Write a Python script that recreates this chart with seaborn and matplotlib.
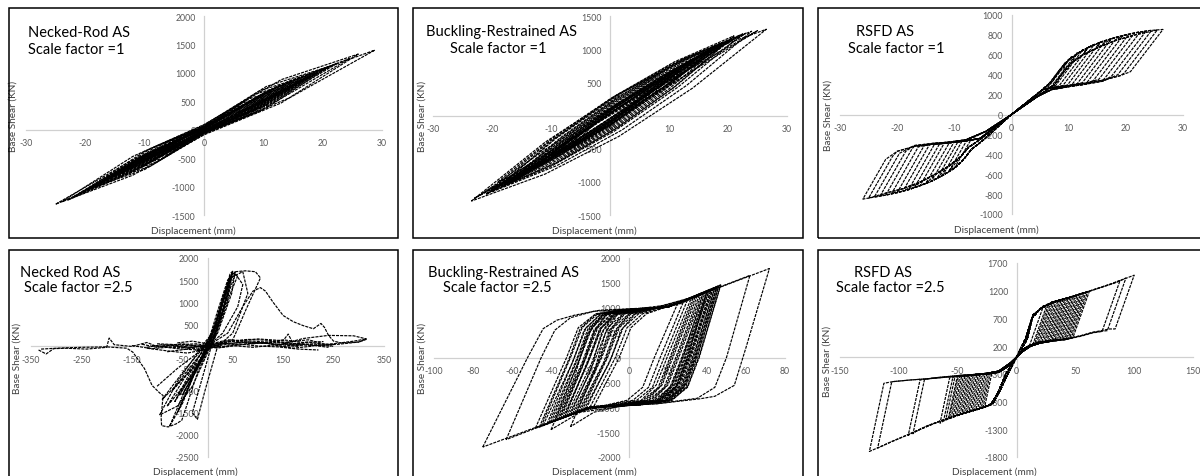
import matplotlib
matplotlib.use("Agg")
import matplotlib.pyplot as plt
from matplotlib.patches import Rectangle
import seaborn as sns
import pandas as pd

sns.set_theme(style="white")
plt.rcParams["font.family"] = ["Lato", "DejaVu Sans"]

W, H = 1200, 477

# ---------------- data ----------------
# Panel 1: Necked-Rod AS, SF=1  (vertices of each cycle)
NR1_LOOPS = [
    [(-25, -1310), (-12.5, -560), (0, 60), (14.4, 860), (28.8, 1400), (14.4, 560), (0, -60), (-12.5, -760), (-25, -1310)],
    [(-23, -1240), (-11.5, -520), (0, 50), (12.2, 760), (24.5, 1250), (12.2, 500), (0, -50), (-11.5, -720), (-23, -1240)],
    [(-22, -1180), (-11, -500), (0, 45), (11.2, 700), (22.5, 1170), (11.2, 470), (0, -45), (-11, -680), (-22, -1180)],
    [(-20.5, -1100), (-10.2, -465), (0, 40), (10.5, 670), (21, 1110), (10.5, 445), (0, -40), (-10.2, -635), (-20.5, -1100)],
    [(-19.5, -1050), (-9.8, -440), (0, 40), (10, 640), (20, 1060), (10, 420), (0, -40), (-9.8, -610), (-19.5, -1050)],
    [(-18.5, -990), (-9.2, -420), (0, 40), (9.5, 600), (19, 1000), (9.5, 400), (0, -40), (-9.2, -570), (-18.5, -990)],
    [(-17.5, -930), (-8.8, -390), (0, 35), (9, 570), (18, 950), (9, 380), (0, -35), (-8.8, -540), (-17.5, -930)],
    [(-16.5, -880), (-8.2, -370), (0, 35), (8.5, 540), (17, 900), (8.5, 360), (0, -35), (-8.2, -510), (-16.5, -880)],
    [(-15.5, -820), (-7.8, -345), (0, 30), (8, 505), (16, 840), (8, 335), (0, -30), (-7.8, -475), (-15.5, -820)],
    [(-14.5, -770), (-7.2, -325), (0, 30), (7.5, 475), (15, 790), (7.5, 315), (0, -30), (-7.2, -445), (-14.5, -770)],
    [(-13.5, -710), (-6.8, -300), (0, 30), (7, 440), (14, 730), (7, 290), (0, -30), (-6.8, -410), (-13.5, -710)],
    [(-12.5, -660), (-6.2, -280), (0, 25), (6.5, 410), (13, 680), (6.5, 270), (0, -25), (-6.2, -380), (-12.5, -660)],
    [(-11.5, -600), (-5.8, -255), (0, 25), (6, 375), (12, 620), (6, 245), (0, -25), (-5.8, -345), (-11.5, -600)],
    [(-10.5, -550), (-5.2, -235), (0, 20), (5.5, 345), (11, 570), (5.5, 225), (0, -20), (-5.2, -315), (-10.5, -550)],
    [(-9.5, -490), (-4.8, -205), (0, 20), (5, 315), (10, 520), (5, 205), (0, -20), (-4.8, -285), (-9.5, -490)],
    [(-8.5, -440), (-4.2, -185), (0, 20), (4.5, 280), (9, 460), (4.5, 180), (0, -20), (-4.2, -255), (-8.5, -440)],
    [(-7.5, -390), (-3.8, -165), (0, 15), (4, 250), (8, 410), (4, 160), (0, -15), (-3.8, -225), (-7.5, -390)],
    [(-6.5, -340), (-3.2, -140), (0, 15), (3.5, 220), (7, 360), (3.5, 140), (0, -15), (-3.2, -200), (-6.5, -340)],
    [(-5.5, -290), (-2.8, -120), (0, 10), (3, 185), (6, 300), (3, 115), (0, -10), (-2.8, -170), (-5.5, -290)],
    [(-21, -1120), (-10.5, -560), (0, 0), (10.8, 560), (21.5, 1120), (10.8, 530), (0, -20), (-10.5, -590), (-21, -1120)],
    [(-17, -900), (-8.5, -450), (0, 0), (8.8, 460), (17.5, 930), (8.8, 430), (0, -20), (-8.5, -480), (-17, -900)],
    [(-13, -690), (-6.5, -345), (0, 0), (6.8, 355), (13.5, 710), (6.8, 330), (0, -15), (-6.5, -370), (-13, -690)],
    [(-24, -1270), (-12, -470), (0, 90), (13, 880), (26, 1330), (13, 470), (0, -90), (-12, -800), (-24, -1270)],
    [(-20, -1060), (-10, -380), (0, 80), (10.5, 760), (21, 1110), (10.5, 380), (0, -80), (-10, -700), (-20, -1060)],
    [(-18, -960), (-9, -330), (0, 70), (9.5, 690), (19, 1000), (9.5, 330), (0, -70), (-9, -640), (-18, -960)],
    [(-16, -850), (-8, -290), (0, 60), (8.5, 620), (17, 900), (8.5, 300), (0, -60), (-8, -570), (-16, -850)],
    [(-14, -740), (-7, -250), (0, 50), (7.5, 540), (15, 790), (7.5, 260), (0, -50), (-7, -500), (-14, -740)],
    [(-12, -630), (-6, -210), (0, 40), (6.5, 470), (13, 680), (6.5, 220), (0, -40), (-6, -430), (-12, -630)],
    [(-10, -530), (-5, -170), (0, 35), (5.5, 400), (11, 570), (5.5, 180), (0, -35), (-5, -360), (-10, -530)],
]

# Panel 2: Buckling-Restrained AS, SF=1 (lens-shaped loops)
BRB1_LOOPS = [
    [(-23.5, -1290), (-11, -403), (1.5, 325), (14, 893), (26.5, 1300), (14, 413), (1.5, -315), (-11, -883), (-23.5, -1290)],
    [(-20, -1150), (-9, -335), (2, 340), (13, 875), (24, 1270), (13, 455), (2, -220), (-9, -755), (-20, -1150)],
    [(-21, -1180), (-10.1, -383), (0.75, 285), (11.6, 823), (22.5, 1230), (11.6, 433), (0.75, -235), (-10.1, -773), (-21, -1180)],
    [(-19.5, -1120), (-9.4, -352), (0.75, 290), (10.9, 808), (21, 1200), (10.9, 432), (0.75, -210), (-9.4, -728), (-19.5, -1120)],
    [(-18, -1060), (-8.4, -335), (1.25, 275), (10.9, 770), (20.5, 1150), (10.9, 425), (1.25, -185), (-8.4, -680), (-18, -1060)],
    [(-17, -1000), (-8, -322), (1, 250), (10, 718), (19, 1080), (10, 402), (1, -170), (-8, -638), (-17, -1000)],
    [(-15.5, -920), (-7.4, -302), (0.75, 220), (8.9, 648), (17, 980), (8.9, 362), (0.75, -160), (-7.4, -588), (-15.5, -920)],
    [(-14, -840), (-6.75, -282), (0.5, 190), (7.75, 578), (15, 880), (7.75, 322), (0.5, -150), (-6.75, -538), (-14, -840)],
    [(-12, -740), (-5.75, -248), (0.5, 170), (6.75, 512), (13, 780), (6.75, 288), (0.5, -130), (-5.75, -472), (-12, -740)],
    [(-10, -640), (-4.75, -215), (0.5, 145), (5.75, 440), (11, 670), (5.75, 245), (0.5, -115), (-4.75, -410), (-10, -640)],
    [(-8, -530), (-3.75, -175), (0.5, 125), (4.75, 370), (9, 560), (4.75, 205), (0.5, -95), (-3.75, -340), (-8, -530)],
    [(-6, -420), (-2.75, -138), (0.5, 100), (3.75, 292), (7, 440), (3.75, 158), (0.5, -80), (-2.75, -272), (-6, -420)],
    [(-22, -1200), (-10.75, -500), (0.5, 140), (11.75, 720), (23, 1240), (11.75, 540), (0.5, -100), (-10.75, -680), (-22, -1200)],
    [(-20, -1130), (-9.75, -477), (0.5, 125), (10.75, 677), (21, 1180), (10.75, 527), (0.5, -75), (-9.75, -627), (-20, -1130)],
    [(-18.5, -1070), (-8.9, -455), (0.75, 115), (10.4, 640), (20, 1120), (10.4, 505), (0.75, -65), (-8.9, -590), (-18.5, -1070)],
    [(-17, -1010), (-8.25, -407), (0.5, 135), (9.25, 617), (18, 1040), (9.25, 437), (0.5, -105), (-8.25, -587), (-17, -1010)],
    [(-15, -900), (-7.25, -377), (0.5, 105), (8.25, 547), (16, 950), (8.25, 427), (0.5, -55), (-7.25, -497), (-15, -900)],
    [(-13, -800), (-6.25, -313), (0.5, 125), (7.25, 512), (14, 850), (7.25, 362), (0.5, -75), (-6.25, -463), (-13, -800)],
    [(-11, -690), (-5.25, -275), (0.5, 100), (6.25, 435), (12, 730), (6.25, 315), (0.5, -60), (-5.25, -395), (-11, -690)],
    [(-9, -580), (-4.25, -232), (0.5, 90), (5.25, 372), (10, 620), (5.25, 268), (0.5, -50), (-4.25, -338), (-9, -580)],
    [(-19, -1000), (-9.5, -325), (0, 250), (9.5, 725), (19, 1100), (9.5, 425), (0, -150), (-9.5, -625), (-19, -1000)],
    [(-16, -980), (-7.5, -425), (1, 100), (9.5, 595), (18, 1060), (9.5, 505), (1, -20), (-7.5, -515), (-16, -980)],
    [(-23, -1250), (-11, -587), (1, 55), (13, 678), (25, 1280), (13, 618), (1, -25), (-11, -647), (-23, -1250)],
    [(-21, -1190), (-10.25, -568), (0.5, 40), (11.25, 632), (22, 1210), (11.25, 588), (0.5, -20), (-10.25, -612), (-21, -1190)],
    [(-18, -1060), (-8.75, -485), (0.5, 65), (9.75, 590), (19, 1090), (9.75, 515), (0.5, -35), (-8.75, -560), (-18, -1060)],
    [(-16, -960), (-7.75, -440), (0.5, 60), (8.75, 540), (17, 1000), (8.75, 480), (0.5, -20), (-7.75, -500), (-16, -960)],
    [(-13, -780), (-6.25, -347), (0.5, 65), (7.25, 458), (14, 830), (7.25, 398), (0.5, -15), (-6.25, -407), (-13, -780)],
    [(-10, -620), (-4.75, -278), (0.5, 50), (5.75, 362), (11, 660), (5.75, 318), (0.5, -10), (-4.75, -322), (-10, -620)],
    [(-20, -1100), (-10, -540), (0, 30), (10, 570), (20, 1120), (10, 480), (0, -90), (-10, -630), (-20, -1100)],
    [(-17, -1020), (-8.25, -470), (0.5, 60), (9.25, 555), (18, 1030), (9.25, 440), (0.5, -110), (-8.25, -585), (-17, -1020)],
]

# Panel 3: RSFD AS, SF=1 (flag-shaped loops)
R1P_ENV_X = [5, 7, 8.5, 10, 12, 14, 16, 18, 20, 22, 24, 26.5]
R1P_ENV_F = [230, 330, 450, 550, 630, 690, 735, 770, 800, 825, 843, 855]
R1P_ENV2_X = [5.5, 7.5, 9, 10.5, 12.5, 15, 18, 21, 24]
R1P_ENV2_F = [220, 300, 420, 520, 600, 670, 740, 790, 830]
R1P_LOW_X = [5.5, 7, 10, 13, 16, 19, 21]
R1P_LOW_F = [250, 268, 290, 315, 345, 390, 430]
R1P_LOW2_X = [4.5, 7, 10, 13, 16, 19, 21]
R1P_LOW2_F = [180, 250, 280, 305, 335, 380, 420]
R1P_PEAK_X = [26.5, 25.5, 24.5, 23.5, 22.5, 21.5, 20.5, 19.5, 18.5, 17.5, 16.5, 15.5, 14.5, 13.5, 12.5, 11.5, 10.5, 9.5]
R1P_PEAK_F = [855, 850, 845, 835, 828, 818, 805, 792, 778, 762, 745, 727, 705, 680, 652, 620, 580, 530]
R1P_RET_X = [20.8, 19.7, 18.6, 17.5, 16.4, 15.3, 14.3, 13.3, 12.4, 11.5, 10.6, 9.8, 9.0, 8.3, 7.6, 6.9, 6.4, 6.0]
R1P_RET_F = [430, 415, 400, 385, 370, 355, 340, 330, 320, 310, 303, 297, 292, 287, 282, 278, 274, 270]
R1N_ENV_X = [-5, -7, -8.5, -10, -12, -14, -16, -18, -20, -22, -24, -26]
R1N_ENV_F = [-260, -350, -460, -540, -610, -670, -715, -755, -785, -810, -830, -850]
R1N_ENV2_X = [-5.5, -7.5, -9, -11, -13, -16, -19, -22, -25]
R1N_ENV2_F = [-250, -330, -430, -520, -590, -680, -745, -790, -830]
R1N_LOW_X = [-5.5, -8, -11, -14, -17, -20, -22.5]
R1N_LOW_F = [-240, -265, -285, -300, -320, -370, -450]
R1N_LOW2_X = [-4.5, -8, -11, -14, -17, -20, -22.5]
R1N_LOW2_F = [-170, -255, -278, -292, -312, -360, -440]
R1N_PEAK_X = [-26, -25, -24, -23, -22, -21, -20, -19, -18, -17, -16, -15, -14, -13, -12, -11, -10]
R1N_PEAK_F = [-850, -840, -830, -820, -810, -797, -785, -770, -755, -735, -715, -693, -670, -640, -610, -575, -540]
R1N_RET_X = [-22, -20.8, -19.6, -18.5, -17.4, -16.3, -15.3, -14.4, -13.5, -12.6, -11.8, -10.9, -10.1, -9.4, -8.7, -7.9, -7.2]
R1N_RET_F = [-450, -420, -390, -370, -345, -325, -315, -308, -302, -297, -292, -287, -282, -277, -272, -268, -264]

# Panel 4: Necked Rod AS, SF=2.5 (traces)
NR25_TRACES = [
    [(-330, -60), (-300, -40), (-250, -20), (-200, -10), (-160, -40), (-148, -130), (-125, -500), (-110, -880),
     (-95, -1050), (-88, -1110), (-92, -1600), (-91, -1790), (-78, -1820), (-62, -1750), (-51, -1670), (-41, -1330),
     (-20, -600), (0, -100), (10, 50)],
    [(-95, -1550), (-60, -800), (-20, -150), (0, 50), (20, 700), (45, 1650), (50, 1700), (40, 1200), (10, 100),
     (-30, -900), (-60, -1350), (-95, -1550)],
    [(-75, -1800), (-50, -1300), (-15, -300), (15, 400), (38, 1300), (55, 1700), (48, 1200), (20, 300), (-10, -200),
     (-45, -1000), (-75, -1800)],
    [(-60, -1500), (-40, -1000), (-10, -200), (10, 300), (30, 1100), (45, 1550), (35, 900), (5, 0), (-30, -700), (-60, -1500)],
    [(-50, -1100), (-20, -500), (0, -20), (20, 600), (40, 1400), (30, 700), (0, -50), (-50, -1100)],
    [(0, 50), (20, 800), (40, 1500), (55, 1690), (75, 1710), (95, 1690), (105, 1550), (95, 1300), (75, 800), (60, 400),
     (50, 150), (30, 100), (0, 0)],
    [(10, 80), (40, 300), (70, 900), (90, 1250), (105, 1330), (115, 1250), (130, 1000), (150, 700), (170, 560), (190, 470),
     (210, 400), (225, 520), (232, 430), (240, 250), (250, 120), (265, 80), (300, 100), (315, 160)],
    [(0, 20), (50, 120), (100, 170), (150, 130), (160, 280), (170, 60), (200, 100), (230, 50), (250, 60), (290, 120), (315, 170)],
    [(150, 60), (190, 180), (240, 250), (290, 240), (315, 170), (300, 100), (260, 50), (210, 20), (150, 60)],
    [(-335, -80), (-320, -170), (-305, -50), (-280, -40), (-240, -60), (-200, -20), (-195, 190), (-185, 40), (-150, 0),
     (-120, 90), (-105, 20), (-60, -30), (-20, 0), (0, 30)],
    [(-120, -40), (-80, -100), (-40, -150), (0, -60), (40, 100), (80, 160), (120, 140), (160, 80), (200, 40), (240, -20)],
    [(-100, 60), (-60, 40), (-20, 60), (20, -40), (60, 60), (100, 10), (140, -10), (180, -60), (220, -80)],
    [(0, 0), (30, 800), (55, 1650), (70, 1400), (60, 900), (30, 300), (0, 0)],
    [(-20, -100), (10, 300), (45, 1550), (70, 1690), (80, 1200), (50, 300), (20, 0), (-20, -100)],
    [(60, 1600), (20, 500), (-10, -700), (-30, -1500), (-20, -1650), (-5, -1000), (20, 0)],
    [(-90, -1200), (-50, -600), (-10, -50), (20, 500), (45, 1600), (40, 1000), (15, 200), (-20, -400), (-90, -1200)],
    [(-70, -1000), (-30, -400), (0, 0), (25, 800), (50, 1700), (45, 1400), (20, 400), (-15, -300), (-70, -1000)],
    [(-100, -900), (-60, -500), (-20, -150), (10, 200), (35, 1200)],
    [(-110, 20), (-60, -50), (-20, -80), (0, 0), (30, 60), (80, 100), (130, 60), (180, 0)],
    [(-80, -120), (-40, -60), (0, 40), (40, 150), (90, 120), (140, 80), (200, 150), (250, 0)],
    [(-60, 80), (-30, 120), (0, 60), (30, -20), (70, 40), (110, 90), (150, 0), (190, 30)],
    [(-55, -1100), (-30, -600), (0, -30), (10, 150)],
    [(-58, -1080), (-28, -560), (2, -10), (12, 170)],
    [(-130, 50), (-100, -20), (-70, 30), (-40, -40), (-10, 20), (20, 80), (60, 40), (100, 90), (140, 40), (180, 70), (220, 20), (250, 50)],
    [(-120, -20), (-90, 40), (-50, 10), (-20, -60), (10, 40), (50, 130), (90, 60), (130, 110), (170, 30), (210, 60), (245, 0)],
    [(-90, 10), (-50, 60), (-10, -20), (30, 30), (70, 110), (110, 70), (150, 150), (190, 90), (230, 110)],
    [(-150, 20), (-110, -50), (-70, -10), (-30, 30), (10, -30), (50, 20), (90, -20), (130, 30), (170, -40), (210, 10)],
    [(-80, -1350), (-45, -700), (-10, -100), (15, 450), (42, 1500), (38, 1100), (12, 150), (-25, -600), (-80, -1350)],
    [(-65, -1250), (-35, -600), (-5, 0), (22, 650), (48, 1650), (42, 1250), (16, 250), (-20, -450), (-65, -1250)],
]

# Panel 5: Buckling-Restrained AS, SF=2.5 (loops)
BRB25_LOOPS = [
    [(-75, -1800), (-52, 0), (-44, 580), (-37, 750), (-28, 850), (-15, 950), (20, 1017), (72, 1788), (60, 200),
     (54, -560), (44, -780), (36.6, -829), (14.4, -930), (-20, -1000), (-75, -1800)],
    [(-63, -1650), (-45, 0), (-38, 550), (-30, 800), (-18, 930), (20, 1017), (62, 1650), (50, 0), (44, -600),
     (35, -820), (14, -930), (-20, -1000), (-63, -1650)],
    [(-48, -1420), (-32, 0), (-26, 600), (-18, 850), (-5, 960), (20, 1017), (47, 1450), (36, 0), (30, -600),
     (22, -850), (5, -950), (-20, -1000), (-48, -1420)],
    [(-40, -1300), (-26, 0), (-20, 600), (-12, 880), (0, 960), (20, 1017), (45, 1400), (34, 0), (28, -600),
     (20, -860), (5, -950), (-20, -1000), (-40, -1300)],
    [(-36, -1250), (-22, 0), (-16, 600), (-8, 880), (5, 970), (20, 1017), (43, 1370), (31, 0), (25, -600),
     (17, -860), (2, -950), (-20, -1000), (-36, -1250)],
    [(-33, -1190), (-20, 0), (-14, 600), (-6, 880), (8, 980), (20, 1017), (41, 1330), (29, 0), (23, -600),
     (15, -860), (0, -950), (-20, -1000), (-33, -1190)],
    [(-30, -1150), (-17, 0), (-11, 600), (-3, 880), (10, 985), (20, 1017), (39, 1300), (27, 0), (21, -600),
     (13, -860), (-2, -950), (-20, -1000), (-30, -1150)],
    [(-27, -1100), (-14, 0), (-8, 600), (0, 880), (12, 990), (20, 1017), (36, 1250), (24, 0), (18, -600),
     (10, -860), (-5, -955), (-20, -1000), (-27, -1100)],
    [(-24, -1060), (-11, 0), (-5, 600), (3, 880), (14, 1000), (20, 1017), (33, 1210), (21, 0), (15, -600),
     (7, -860), (-8, -960), (-20, -1000), (-24, -1060)],
    [(-22, -1030), (-9, 0), (-3, 600), (5, 880), (16, 1005), (30, 1160), (18, 0), (12, -600), (4, -860),
     (-10, -965), (-22, -1030)],
    [(-45, -1380), (-30, 0), (-24, 600), (-16, 880), (-2, 960), (20, 1017), (40, 1320), (30, 0), (24, -600),
     (16, -860), (2, -950), (-20, -1000), (-45, -1380)],
    [(-38, -1270), (-25, 0), (-19, 600), (-11, 880), (2, 965), (20, 1017), (46, 1430), (35, 0), (29, -600),
     (21, -860), (6, -950), (-20, -1000), (-38, -1270)],
    [(-42, -1330), (-28, 0), (-22, 600), (-14, 880), (0, 960), (20, 1017), (44, 1390), (33, 0), (27, -600),
     (19, -860), (4, -950), (-20, -1000), (-42, -1330)],
    [(-35, -1230), (-24, -200), (-18, 500), (-12, 850), (-2, 950), (25, 1080), (42, 1350), (32, 100), (26, -500),
     (18, -880), (0, -960), (-20, -1020), (-35, -1230)],
    [(-31, -1170), (-20, -300), (-14, 500), (-8, 850), (5, 960), (25, 1060), (38, 1280), (28, 50), (22, -550),
     (14, -880), (-3, -960), (-20, -1020), (-31, -1170)],
    [(-30, -1390), (-18, -300), (-12, 500), (-6, 860), (5, 960), (20, 1017), (40, 1320), (30, 0), (24, -600),
     (14, -900), (-5, -980), (-18, -1100), (-30, -1390)],
    [(-40, -1450), (-28, -400), (-22, 400), (-14, 850), (0, 960), (20, 1017), (45, 1420), (34, 0), (28, -600),
     (18, -880), (0, -960), (-25, -1100), (-40, -1450)],
    [(-20, -1000), (-7, 0), (-1, 600), (7, 880), (18, 1005), (28, 1130), (16, 0), (10, -600), (2, -860),
     (-12, -965), (-20, -1000)],
    [(-18, -980), (-5, 0), (1, 600), (9, 880), (18, 1000), (25, 1090), (13, 0), (7, -600), (-1, -860),
     (-12, -960), (-18, -980)],
    [(-37, -1260), (-24, -100), (-18, 550), (-11, 870), (1, 960), (20, 1010), (44, 1400), (33, 50), (27, -550),
     (19, -870), (3, -955), (-20, -1005), (-37, -1260)],
    [(-34, -1210), (-21, -100), (-15, 550), (-8, 870), (4, 965), (20, 1010), (42, 1360), (31, 50), (25, -550),
     (17, -870), (1, -955), (-20, -1005), (-34, -1210)],
    [(-32, -1180), (-19, -100), (-13, 550), (-6, 870), (6, 970), (20, 1012), (40, 1330), (29, 50), (23, -550),
     (15, -870), (-1, -955), (-20, -1005), (-32, -1180)],
    [(-29, -1130), (-16, -100), (-10, 550), (-3, 870), (9, 980), (20, 1015), (38, 1290), (26, 50), (20, -550),
     (12, -870), (-3, -955), (-20, -1005), (-29, -1130)],
    [(-26, -1090), (-13, -100), (-7, 550), (0, 870), (11, 985), (20, 1015), (35, 1240), (23, 50), (17, -550),
     (9, -870), (-6, -958), (-20, -1005), (-26, -1090)],
    [(-23, -1045), (-10, -100), (-4, 550), (3, 870), (13, 990), (32, 1200), (20, 50), (14, -550), (6, -870),
     (-8, -960), (-23, -1045)],
    [(-44, -1360), (-29, -100), (-23, 550), (-15, 870), (-1, 960), (20, 1015), (46, 1440), (35, 50), (29, -550),
     (21, -870), (5, -955), (-20, -1005), (-44, -1360)],
    [(-39, -1290), (-26, -100), (-20, 550), (-13, 870), (0, 960), (20, 1015), (45, 1410), (34, 50), (28, -550),
     (20, -870), (4, -955), (-20, -1005), (-39, -1290)],
    [(-41, -1310), (-27, -50), (-21, 580), (-13, 880), (0, 962), (20, 1015), (43, 1380), (32, 30), (26, -580),
     (18, -865), (3, -952), (-20, -1002), (-41, -1310)],
    [(-36, -1245), (-23, -50), (-17, 580), (-9, 880), (3, 968), (20, 1015), (41, 1345), (30, 30), (24, -580),
     (16, -865), (1, -952), (-20, -1002), (-36, -1245)],
    [(-28, -1115), (-15, -50), (-9, 580), (-2, 880), (10, 985), (20, 1015), (37, 1270), (25, 30), (19, -580),
     (11, -865), (-4, -955), (-20, -1002), (-28, -1115)],
    [(-25, -1075), (-12, -50), (-6, 580), (1, 880), (12, 990), (34, 1225), (22, 30), (16, -580), (8, -865),
     (-7, -958), (-25, -1075)],
    [(-33, -1200), (-21, -50), (-15, 580), (-7, 880), (6, 972), (20, 1013), (40, 1320), (28, 30), (22, -580),
     (14, -865), (-1, -955), (-20, -1003), (-33, -1200)],
    [(-46, -1400), (-31, -50), (-25, 580), (-17, 880), (-3, 958), (20, 1015), (47, 1460), (36, 30), (30, -580),
     (22, -865), (6, -952), (-20, -1002), (-46, -1400)],
]

# Panel 6: RSFD AS, SF=2.5 (flag-shaped loops)
R25P_ENV_X = [8, 13, 20, 30, 45, 60, 80, 100]
R25P_ENV_F = [350, 700, 870, 990, 1080, 1180, 1320, 1480]
R25P_ENV2_X = [9, 14, 22, 32, 48, 65, 85]
R25P_ENV2_F = [320, 760, 900, 1000, 1100, 1210, 1350]
R25P_LOW_X = [6, 12, 20, 30, 42, 55, 65, 79]
R25P_LOW_F = [150, 220, 270, 300, 330, 390, 450, 510]
R25P_LOW2_X = [5, 12, 20, 30, 42, 55, 65, 79]
R25P_LOW2_F = [100, 200, 255, 290, 320, 380, 440, 500]
R25P_PEAK_X = [100, 93, 88, 62, 60.5, 59, 57.5, 56, 54.5, 53, 51.5, 50, 48.5, 47, 45.5, 44, 42.5, 41, 39.5, 38,
               36.5, 35, 33.5, 32, 30.5, 29, 27.5, 26, 23]
R25P_PEAK_F = [1480, 1430, 1385, 1195, 1185, 1175, 1162, 1150, 1138, 1125, 1118, 1110, 1100, 1090, 1080, 1070, 1058,
               1045, 1035, 1025, 1015, 1005, 1000, 995, 988, 980, 968, 955, 930]
R25P_RET_X = [83.8, 77.2, 72.7, 47.9, 46.5, 45.1, 43.7, 42.3, 41, 39.7, 38.2, 36.8, 35.4, 34, 32.6, 31.25, 29.9,
              28.6, 27.2, 25.75, 24.35, 23, 21.5, 20, 18.5, 17, 15.5, 14.1, 11.2]
R25P_RET_F = [510, 480, 465, 350, 345, 340, 335, 330, 327, 325, 321, 318, 315, 312, 308, 305, 302, 300, 295, 290,
              286, 283, 278, 272, 266, 260, 250, 240, 220]
R25N_ENV_X = [-8, -14, -20, -30, -45, -60, -75, -90, -110, -125]
R25N_ENV_F = [-330, -600, -830, -920, -1010, -1120, -1230, -1380, -1560, -1700]
R25N_ENV2_X = [-9, -16, -22, -33, -48, -65, -85, -105]
R25N_ENV2_F = [-300, -650, -860, -940, -1030, -1150, -1330, -1510]
R25N_LOW_X = [-6, -15, -25, -35, -50, -70, -90, -105, -115]
R25N_LOW_F = [-150, -270, -300, -318, -340, -380, -410, -440, -470]
R25N_LOW2_X = [-5, -15, -25, -35, -50, -70, -90, -105, -115]
R25N_LOW2_F = [-100, -250, -290, -310, -332, -372, -402, -432, -462]
R25N_PEAK_X = [-125, -118, -92, -88, -65, -62, -60, -58, -57, -55.5, -54, -52.5, -51, -49.5, -48, -46.5, -45,
               -43.5, -42, -40.5, -39, -37.5, -36, -34.5, -33, -31.5, -30, -28.5, -27]
R25N_PEAK_F = [-1700, -1640, -1410, -1380, -1190, -1150, -1120, -1110, -1100, -1090, -1080, -1070, -1060, -1050,
               -1040, -1025, -1010, -1000, -990, -980, -970, -960, -950, -943, -935, -928, -920, -905, -890]
R25N_RET_X = [-112.7, -106.1, -82, -78.2, -56.8, -54.1, -52.35, -50.4, -49.5, -48.1, -46.65, -45.2, -43.8, -42.4,
              -40.95, -39.6, -38.2, -36.8, -35.35, -33.9, -32.5, -31.1, -29.65, -28.2, -26.75, -25.3, -23.85, -22.5, -21.1]
R25N_RET_F = [-470, -450, -410, -400, -370, -362, -355, -352, -350, -348, -345, -343, -340, -338, -335, -333, -330,
              -328, -325, -323, -320, -318, -315, -313, -310, -308, -305, -303, -300]


def flag_loops(envs, lows, pk_x, pk_f, rt_x, rt_f):
    loops = []
    for i, (dp, fp, du, fu) in enumerate(zip(pk_x, pk_f, rt_x, rt_f)):
        env_x, env_f = envs[i % len(envs)]
        low_x, low_f = lows[(i // 2) % len(lows)]
        pts = [(0, 0)]
        pts += [(x, f) for x, f in zip(env_x, env_f) if abs(x) < abs(dp)]
        pts += [(dp, fp), (du, fu)]
        pts += [(x, f) for x, f in reversed(list(zip(low_x, low_f))) if abs(x) < abs(du)]
        pts += [(0, 0)]
        loops.append(pts)
    return loops


R1_LOOPS = (flag_loops([(R1P_ENV_X, R1P_ENV_F), (R1P_ENV2_X, R1P_ENV2_F)],
                       [(R1P_LOW_X, R1P_LOW_F), (R1P_LOW2_X, R1P_LOW2_F)],
                       R1P_PEAK_X, R1P_PEAK_F, R1P_RET_X, R1P_RET_F)
            + flag_loops([(R1N_ENV_X, R1N_ENV_F), (R1N_ENV2_X, R1N_ENV2_F)],
                         [(R1N_LOW_X, R1N_LOW_F), (R1N_LOW2_X, R1N_LOW2_F)],
                         R1N_PEAK_X, R1N_PEAK_F, R1N_RET_X, R1N_RET_F))
R25_LOOPS = (flag_loops([(R25P_ENV_X, R25P_ENV_F), (R25P_ENV2_X, R25P_ENV2_F)],
                        [(R25P_LOW_X, R25P_LOW_F), (R25P_LOW2_X, R25P_LOW2_F)],
                        R25P_PEAK_X, R25P_PEAK_F, R25P_RET_X, R25P_RET_F)
             + flag_loops([(R25N_ENV_X, R25N_ENV_F), (R25N_ENV2_X, R25N_ENV2_F)],
                          [(R25N_LOW_X, R25N_LOW_F), (R25N_LOW2_X, R25N_LOW2_F)],
                          R25N_PEAK_X, R25N_PEAK_F, R25N_RET_X, R25N_RET_F))

PANELS = [
    dict(loops=NR1_LOOPS, xt=[-30, -20, -10, 0, 10, 20, 30], yt=[-1500, -1000, -500, 0, 500, 1000, 1500, 2000],
         ax=(26, 382, 17, 216), border=(9, 9, 398, 239), ylx=-0.024, xlx=0.47, xly=-0.055,
         title=[("Necked-Rod AS", 28, 33, "left"), ("Scale factor =1", 28, 50, "left")]),
    dict(loops=BRB1_LOOPS, xt=[-30, -20, -10, 0, 10, 20, 30], yt=[-1500, -1000, -500, 0, 500, 1000, 1500],
         ax=(433, 787, 17, 216), border=(413, 9, 803, 239), ylx=-0.017, xlx=0.457, xly=-0.055,
         title=[("Buckling-Restrained AS", 502, 32, "center"), ("Scale factor =1", 498, 49, "center")]),
    dict(loops=R1_LOOPS, xt=[-30, -20, -10, 0, 10, 20, 30], yt=[-1000, -800, -600, -400, -200, 0, 200, 400, 600, 800, 1000],
         ax=(840, 1183, 16, 215), border=(818, 9, 1210, 239), ylx=-0.023, xlx=0.455, xly=-0.055,
         title=[("RSFD AS", 885, 32, "center"), ("Scale factor =1", 896, 49, "center")]),
    dict(loops=NR25_TRACES, xt=[-350, -250, -150, -50, 50, 150, 250, 350], yt=[-2500, -2000, -1500, -1000, -500, 0, 500, 1000, 1500, 2000],
         ax=(31, 384, 259, 458), border=(9, 251, 398, 490), ylx=-0.026, xlx=0.465, xly=-0.048,
         title=[("Necked Rod AS", 70, 273, "center"), ("Scale factor =2.5", 78, 288, "center")]),
    dict(loops=BRB25_LOOPS, xt=[-100, -80, -60, -40, -20, 0, 20, 40, 60, 80], yt=[-2000, -1500, -1000, -500, 0, 500, 1000, 1500, 2000],
         ax=(434, 785, 259, 458), border=(413, 251, 803, 490), ylx=-0.02, xlx=0.456, xly=-0.048,
         title=[("Buckling-Restrained AS", 504, 273, "center"), ("Scale factor =2.5", 497, 288, "center")]),
    dict(loops=R25_LOOPS, xt=[-150, -100, -50, 0, 50, 100, 150], yt=[-1800, -1300, -800, -300, 200, 700, 1200, 1700],
         ax=(840, 1193, 264, 458), border=(818, 251, 1210, 490), ylx=-0.025, xlx=0.437, xly=-0.048,
         title=[("RSFD AS", 883, 273, "center"), ("Scale factor =2.5", 890, 288, "center")]),
]

fig = plt.figure(figsize=(W / 100, H / 100), dpi=100)
fig.patch.set_facecolor("white")

for p in PANELS:
    bl, bt, br, bb = p["border"]
    fig.patches.append(Rectangle((bl / W, 1 - bb / H), (br - bl) / W, (bb - bt) / H,
                                 transform=fig.transFigure, fill=False, ec="black", lw=1.1, zorder=0))
    l, r, t, b = p["ax"]
    ax = fig.add_axes([l / W, 1 - b / H, (r - l) / W, (b - t) / H])
    ax.set_facecolor("none")
    rows = []
    for i, loop in enumerate(p["loops"]):
        for j, (x, y) in enumerate(loop):
            rows.append(dict(x=x, y=y, loop=i, order=j))
    df = pd.DataFrame(rows)
    sns.lineplot(data=df, x="x", y="y", units="loop", estimator=None, sort=False, color="black",
                 linewidth=0.85, linestyle=(0, (2.6, 0.9)), ax=ax, legend=False)
    xt, yt = p["xt"], p["yt"]
    ax.set_xlim(xt[0], xt[-1])
    ax.set_ylim(yt[0], yt[-1])
    ax.set_xticks(xt)
    ax.set_yticks(yt)
    ax.set_xticklabels([str(v) for v in xt])
    ax.set_yticklabels([str(v) for v in yt])
    for s in ("top", "right"):
        ax.spines[s].set_visible(False)
    ax.spines["left"].set_position(("data", 0))
    ax.spines["bottom"].set_position(("data", 0))
    for s in ("left", "bottom"):
        ax.spines[s].set_color("#d0d0d0")
        ax.spines[s].set_linewidth(0.9)
        ax.spines[s].set_zorder(0.5)
    ax.tick_params(axis="both", length=0, labelsize=6.3, labelcolor="#595959")
    ax.tick_params(axis="x", pad=6)
    ax.tick_params(axis="y", pad=6)
    ax.set_xlabel("Displacement (mm)", fontsize=7.2, color="#404040")
    ax.set_ylabel("Base Shear (KN)", fontsize=7.2, color="#404040")
    ax.xaxis.set_label_coords(p["xlx"], p["xly"])
    ax.yaxis.set_label_coords(p["ylx"], 0.5)
    for txt, x, y, ha in p["title"]:
        fig.text(x / W, 1 - y / H, txt, ha=ha, va="center", fontsize=10.5, color="black")

fig.savefig("out.png", dpi=100, facecolor="white")
